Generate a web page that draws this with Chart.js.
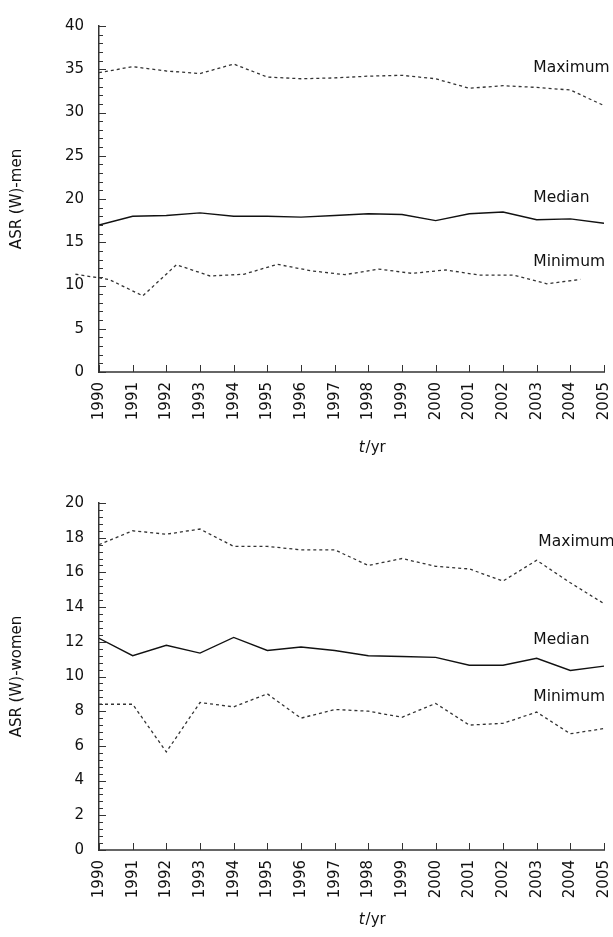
<!DOCTYPE html>
<html>
<head>
<meta charset="utf-8">
<script src="https://cdn.jsdelivr.net/npm/chart.js@4.4.1/dist/chart.umd.min.js"></script>
<style>
  body { margin: 0; background: #fff; }
  canvas { display: block; }
</style>
</head>
<body>
<canvas id="menChart" width="613" height="468"></canvas>
<canvas id="womenChart" width="613" height="469"></canvas>
<script>
// Données
const years = [1990, 1991, 1992, 1993, 1994, 1995, 1996, 1997, 1998, 1999, 2000, 2001, 2002, 2003, 2004, 2005];

// Hommes
const menMax = [34.6, 35.3, 34.8, 34.5, 35.6, 34.1, 33.9, 34.0, 34.2, 34.3, 33.9, 32.8, 33.1, 32.9, 32.6, 30.8];
const menMedian = [17.0, 18.0, 18.1, 18.4, 18.0, 18.0, 17.9, 18.1, 18.3, 18.2, 17.5, 18.3, 18.5, 17.6, 17.7, 17.2];
// la courbe "Minimum" est décalée vers la gauche sur l'original
const menMinYears = [1989.3, 1990.3, 1991.3, 1992.3, 1993.3, 1994.3, 1995.3, 1996.3, 1997.3, 1998.3, 1999.3, 2000.3, 2001.3, 2002.3, 2003.3, 2004.3];
const menMin = [11.3, 10.7, 8.8, 12.4, 11.1, 11.3, 12.45, 11.7, 11.25, 11.9, 11.4, 11.8, 11.2, 11.2, 10.2, 10.7];

// Femmes
const womenMax = [17.6, 18.4, 18.2, 18.5, 17.5, 17.5, 17.3, 17.3, 16.4, 16.8, 16.35, 16.2, 15.5, 16.7, 15.4, 14.2];
const womenMedian = [12.2, 11.2, 11.8, 11.35, 12.25, 11.5, 11.7, 11.5, 11.2, 11.15, 11.1, 10.65, 10.65, 11.05, 10.35, 10.6];
const womenMin = [8.4, 8.4, 5.65, 8.5, 8.25, 9.0, 7.6, 8.1, 8.0, 7.65, 8.45, 7.2, 7.3, 7.95, 6.7, 7.0];

// Étiquettes des courbes
const curveNames = ['Maximum', 'Median', 'Minimum'];
const menLabelX = [2002.9, 2002.9, 2002.9];
const menLabelY = [35.1, 20.1, 12.7];
const womenLabelX = [2003.05, 2002.9, 2002.9];
const womenLabelY = [17.75, 12.1, 8.83];

const FONT = '"DejaVu Sans", Verdana, sans-serif';
const TEXT = '#111';

function pts(xs, ys) {
  return xs.map((x, i) => ({ x: x, y: ys[i] }));
}

// ticks vers l'intérieur, étiquettes des courbes et titre "t/yr"
const decoPlugin = {
  id: 'deco',
  afterDraw(chart, args, opts) {
    const ctx = chart.ctx;
    const xs = chart.scales.x;
    const ys = chart.scales.y;
    ctx.save();
    ctx.strokeStyle = '#333';
    ctx.lineWidth = 1;
    ys.ticks.forEach((t, i) => {
      const py = Math.round(ys.getPixelForTick(i)) + 0.5;
      const len = t.label !== '' ? 7 : 4;
      ctx.beginPath();
      ctx.moveTo(xs.left, py);
      ctx.lineTo(xs.left + len, py);
      ctx.stroke();
    });
    xs.ticks.forEach((t, i) => {
      const px = Math.round(xs.getPixelForTick(i)) + 0.5;
      ctx.beginPath();
      ctx.moveTo(px, ys.bottom);
      ctx.lineTo(px, ys.bottom - 7);
      ctx.stroke();
    });

    ctx.fillStyle = TEXT;
    ctx.font = '15.5px ' + FONT;
    ctx.textAlign = 'left';
    ctx.textBaseline = 'middle';
    opts.names.forEach((n, i) => {
      ctx.fillText(n, xs.getPixelForValue(opts.lx[i]), ys.getPixelForValue(opts.ly[i]));
    });

    // titre de l'axe x : t en italique
    const cx = xs.getPixelForValue(opts.titleX);
    const cy = ys.bottom + opts.titleOffset;
    ctx.font = 'italic 15px ' + FONT;
    const w1 = ctx.measureText('t').width;
    ctx.font = '15px ' + FONT;
    const w2 = ctx.measureText('/yr').width;
    const x0 = cx - (w1 + w2) / 2;
    ctx.font = 'italic 15px ' + FONT;
    ctx.fillText('t', x0, cy);
    ctx.font = '15px ' + FONT;
    ctx.fillText('/yr', x0 + w1 + 1, cy);
    ctx.restore();
  }
};

function makeChart(id, cfg) {
  const ctx = document.getElementById(id).getContext('2d');
  return new Chart(ctx, {
    type: 'line',
    data: {
      datasets: [
        {
          label: 'Maximum',
          data: pts(years, cfg.max),
          borderColor: '#333',
          borderWidth: 1.3,
          borderDash: [3, 3],
          pointRadius: 0,
          tension: 0
        },
        {
          label: 'Median',
          data: pts(years, cfg.median),
          borderColor: '#111',
          borderWidth: 1.4,
          pointRadius: 0,
          tension: 0
        },
        {
          label: 'Minimum',
          data: pts(cfg.minYears, cfg.min),
          borderColor: '#333',
          borderWidth: 1.3,
          borderDash: [3, 3],
          pointRadius: 0,
          tension: 0,
          clip: false
        }
      ]
    },
    options: {
      responsive: false,
      animation: false,
      layout: {
        padding: { top: cfg.padTop, right: 9, left: 0, bottom: 0 }
      },
      plugins: {
        legend: { display: false },
        tooltip: { enabled: false },
        deco: {
          names: curveNames,
          lx: cfg.lx,
          ly: cfg.ly,
          titleX: 1998.1,
          titleOffset: cfg.titleOffset
        }
      },
      scales: {
        x: {
          type: 'linear',
          min: 1990,
          max: 2005,
          afterFit(scale) {
            scale.height = cfg.xHeight;
            scale.paddingLeft = 0;
            scale.paddingRight = 0;
          },
          border: { color: '#666', width: 2 },
          grid: { display: true, drawOnChartArea: false, drawTicks: false },
          ticks: {
            stepSize: 1,
            autoSkip: false,
            minRotation: 90,
            maxRotation: 90,
            padding: 10,
            color: TEXT,
            font: { family: FONT, size: 15 },
            callback: v => String(v)
          }
        },
        y: {
          min: 0,
          max: cfg.yMax,
          afterFit(scale) { scale.width = 99; },
          border: { color: '#333', width: 1.5 },
          grid: { display: true, drawOnChartArea: false, drawTicks: false },
          title: {
            display: true,
            text: cfg.yTitle,
            color: TEXT,
            font: { family: FONT, size: 15 },
            padding: { top: 8, bottom: 0 }
          },
          ticks: {
            stepSize: cfg.minorStep,
            autoSkip: false,
            padding: 15,
            color: TEXT,
            font: { family: FONT, size: 15 },
            callback: v => {
              const r = v / cfg.majorStep;
              return Math.abs(r - Math.round(r)) < 1e-6 ? String(Math.round(v)) : '';
            }
          }
        }
      }
    },
    plugins: [decoPlugin]
  });
}

makeChart('menChart', {
  max: menMax,
  median: menMedian,
  min: menMin,
  minYears: menMinYears,
  yMax: 40,
  minorStep: 1,
  majorStep: 5,
  yTitle: 'ASR (W)-men',
  lx: menLabelX,
  ly: menLabelY,
  padTop: 26,
  xHeight: 96,
  titleOffset: 76
});

makeChart('womenChart', {
  max: womenMax,
  median: womenMedian,
  min: womenMin,
  minYears: years,
  yMax: 20,
  minorStep: 0.4,
  majorStep: 2,
  yTitle: 'ASR (W)-women',
  lx: womenLabelX,
  ly: womenLabelY,
  padTop: 35,
  xHeight: 87,
  titleOffset: 70
});
</script>
</body>
</html>
